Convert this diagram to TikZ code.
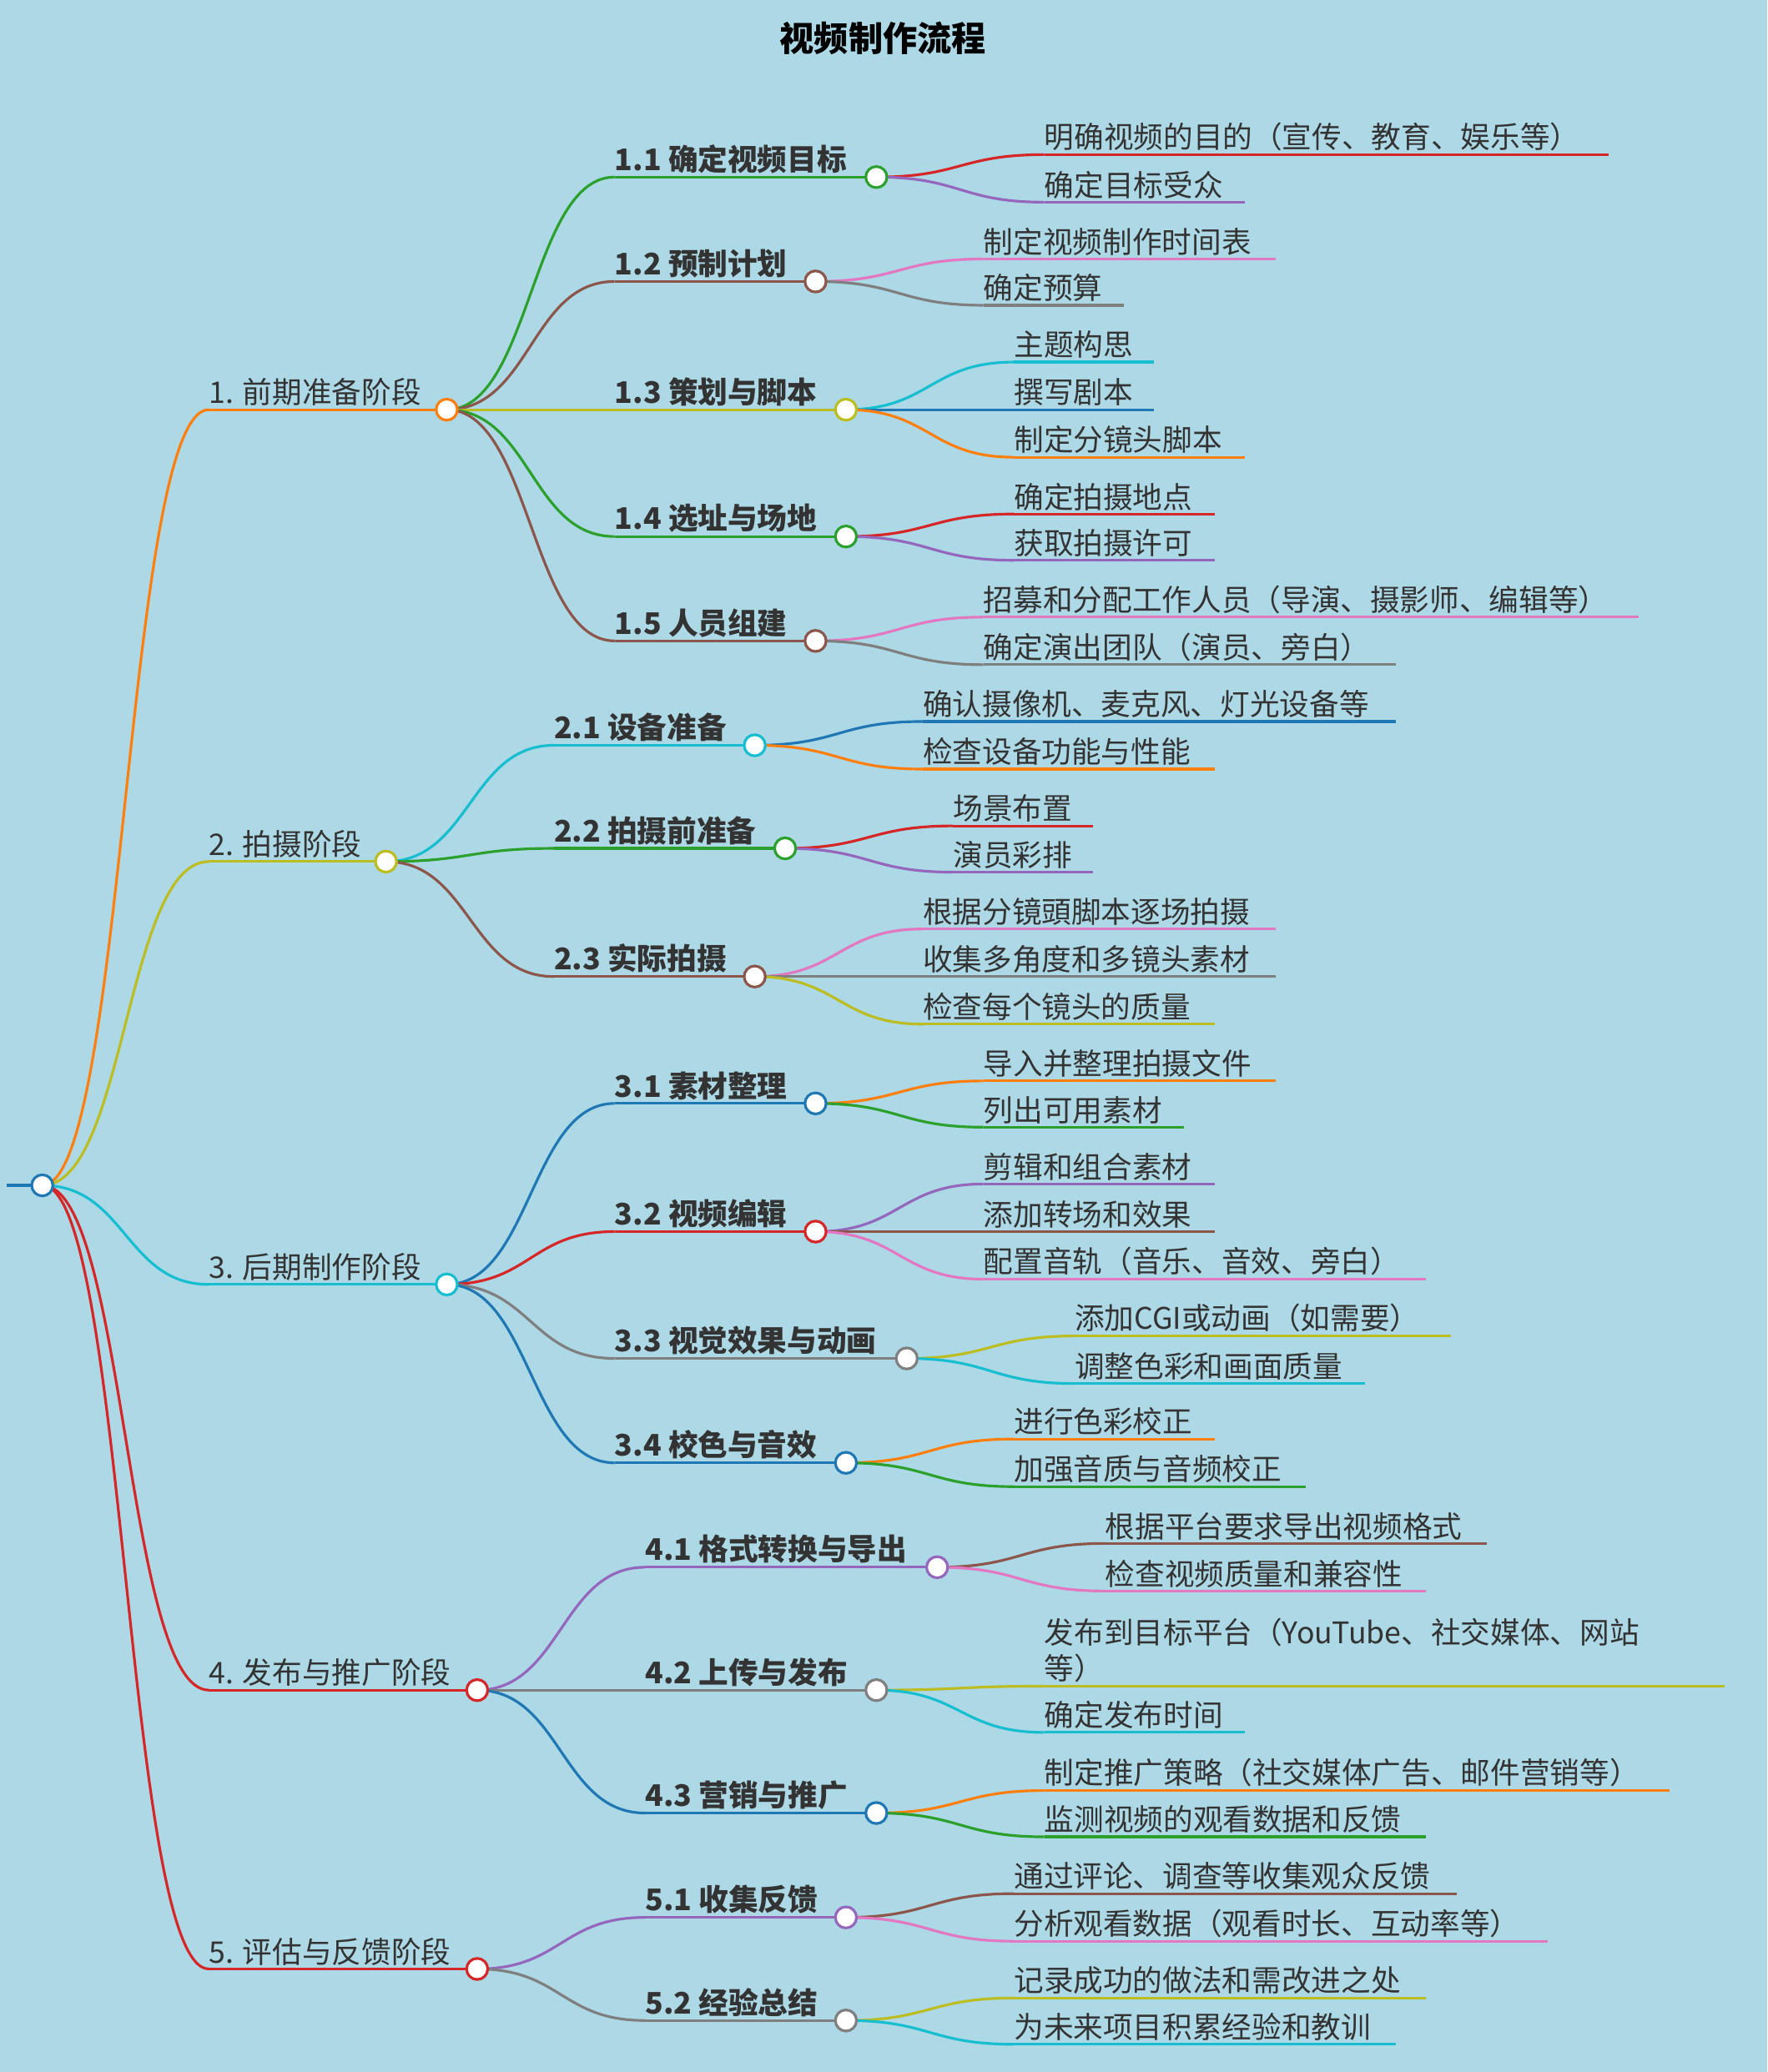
\documentclass[tikz,border=0pt]{standalone}
\usepackage{fontspec}
\newfontfamily\cjk{Noto Sans CJK SC}
\usetikzlibrary{calc}
\pgfdeclarelayer{background}
\pgfsetlayers{background,main}

\definecolor{mmorange}{HTML}{FF7F0E}
\definecolor{mmolive}{HTML}{BCBD22}
\definecolor{mmcyan}{HTML}{17BECF}
\definecolor{mmred}{HTML}{D62728}
\definecolor{mmgreen}{HTML}{2CA02C}
\definecolor{mmbrown}{HTML}{8C564B}
\definecolor{mmblue}{HTML}{1F77B4}
\definecolor{mmpurple}{HTML}{9467BD}
\definecolor{mmgray}{HTML}{7F7F7F}
\definecolor{mmpink}{HTML}{E377C2}
\definecolor{bgblue}{HTML}{ADD8E6}
\definecolor{textgray}{HTML}{333333}

% one topic: name, x, y, end x, colour, font, text
\newcommand\mmnode[7]{%
  \coordinate (#1s) at (#2,#3);
  \node[topic,#6] (#1t) at (#2,#3) {#7};
  \coordinate (#1) at (#4,#3);
  \begin{pgfonlayer}{background}\draw[branch,#5] (#1s) -- (#1);\end{pgfonlayer}
}
% the knob at the end of a topic
\newcommand\mmdot[2]{\node[knob,draw=#2] (#1d) at (#1) {};}
% curve from parent to child
\newcommand\mmlink[3]{%
  \begin{pgfonlayer}{background}
  \draw[branch,#3] let \p1=(#1), \p2=(#2s) in
    (\p1) .. controls ({(\x1+\x2)/2},\y1) and ({(\x1+\x2)/2},\y2) .. (\p2);
  \end{pgfonlayer}
}

\begin{document}
\begin{tikzpicture}[
    x={(1pt,0)}, y={(0,-1pt)},
    topic/.style={anchor=south west, inner xsep=0pt, inner ysep=2.5pt, text=textgray,
      font=\cjk\fontsize{22.5}{27}\selectfont},
    main/.style={font=\cjk\bfseries\fontsize{22.5}{27}\selectfont},
    branch/.style={line width=2pt},
    knob/.style={circle, fill=white, line width=2pt, minimum size=16pt, inner sep=0pt}
]
\begin{pgfonlayer}{background}
\fill[bgblue] (0,0) rectangle (1337,1568);
\end{pgfonlayer}
\node[font=\cjk\bfseries\fontsize{26}{30}\selectfont, text=black] (title) at (668,29) {视频制作流程};

% root
\mmnode{r}{5}{897}{32}{mmblue}{}{}

% first level
\mmnode{a}{158}{310}{338}{mmorange}{}{1. 前期准备阶段}
\mmnode{b}{158}{652}{292}{mmolive}{}{2. 拍摄阶段}
\mmnode{c}{158}{972}{338}{mmcyan}{}{3. 后期制作阶段}
\mmnode{d}{158}{1279}{361}{mmred}{}{4. 发布与推广阶段}
\mmnode{e}{158}{1490}{361}{mmred}{}{5. 评估与反馈阶段}
\mmlink{r}{a}{mmorange}
\mmlink{r}{b}{mmolive}
\mmlink{r}{c}{mmcyan}
\mmlink{r}{d}{mmred}
\mmlink{r}{e}{mmred}

% second level
\mmnode{a1}{465}{134}{663}{mmgreen}{main}{1.1 确定视频目标}
\mmnode{a2}{465}{213}{617}{mmbrown}{main}{1.2 预制计划}
\mmnode{a3}{465}{310}{640}{mmolive}{main}{1.3 策划与脚本}
\mmnode{a4}{465}{406}{640}{mmgreen}{main}{1.4 选址与场地}
\mmnode{a5}{465}{485}{617}{mmbrown}{main}{1.5 人员组建}
\mmnode{b1}{419}{564}{571}{mmcyan}{main}{2.1 设备准备}
\mmnode{b2}{419}{642}{594}{mmgreen}{main}{2.2 拍摄前准备}
\mmnode{b3}{419}{739}{571}{mmbrown}{main}{2.3 实际拍摄}
\mmnode{c1}{465}{835}{617}{mmblue}{main}{3.1 素材整理}
\mmnode{c2}{465}{932}{617}{mmred}{main}{3.2 视频编辑}
\mmnode{c3}{465}{1028}{686}{mmgray}{main}{3.3 视觉效果与动画}
\mmnode{c4}{465}{1107}{640}{mmblue}{main}{3.4 校色与音效}
\mmnode{d1}{488}{1186}{709}{mmpurple}{main}{4.1 格式转换与导出}
\mmnode{d2}{488}{1279}{663}{mmgray}{main}{4.2 上传与发布}
\mmnode{d3}{488}{1372}{663}{mmblue}{main}{4.3 营销与推广}
\mmnode{e1}{488}{1451}{640}{mmpurple}{main}{5.1 收集反馈}
\mmnode{e2}{488}{1529}{640}{mmgray}{main}{5.2 经验总结}
\foreach \pa/\kid/\col in {a/a1/mmgreen, a/a2/mmbrown, a/a3/mmolive, a/a4/mmgreen, a/a5/mmbrown,
    b/b1/mmcyan, b/b2/mmgreen, b/b3/mmbrown, c/c1/mmblue, c/c2/mmred, c/c3/mmgray, c/c4/mmblue,
    d/d1/mmpurple, d/d2/mmgray, d/d3/mmblue, e/e1/mmpurple, e/e2/mmgray}
  {\mmlink{\pa}{\kid}{\col}}

% leaves
\mmnode{a11}{790}{117}{1217}{mmred}{}{明确视频的目的（宣传、教育、娱乐等）}
\mmnode{a12}{790}{153}{942}{mmpurple}{}{确定目标受众}
\mmnode{a21}{744}{196}{965}{mmpink}{}{制定视频制作时间表}
\mmnode{a22}{744}{231}{850}{mmgray}{}{确定预算}
\mmnode{a31}{767}{274}{873}{mmcyan}{}{主题构思}
\mmnode{a32}{767}{310}{873}{mmblue}{}{撰写剧本}
\mmnode{a33}{767}{346}{942}{mmorange}{}{制定分镜头脚本}
\mmnode{a41}{767}{389}{919}{mmred}{}{确定拍摄地点}
\mmnode{a42}{767}{424}{919}{mmpurple}{}{获取拍摄许可}
\mmnode{a51}{744}{467}{1240}{mmpink}{}{招募和分配工作人员（导演、摄影师、编辑等）}
\mmnode{a52}{744}{503}{1056}{mmgray}{}{确定演出团队（演员、旁白）}
\mmnode{b11}{698}{546}{1056}{mmblue}{}{确认摄像机、麦克风、灯光设备等}
\mmnode{b12}{698}{582}{919}{mmorange}{}{检查设备功能与性能}
\mmnode{b21}{721}{625}{827}{mmred}{}{场景布置}
\mmnode{b22}{721}{660}{827}{mmpurple}{}{演员彩排}
\mmnode{b31}{698}{703}{965}{mmpink}{}{根据分镜頭脚本逐场拍摄}
\mmnode{b32}{698}{739}{965}{mmgray}{}{收集多角度和多镜头素材}
\mmnode{b33}{698}{775}{919}{mmolive}{}{检查每个镜头的质量}
\mmnode{c11}{744}{818}{965}{mmorange}{}{导入并整理拍摄文件}
\mmnode{c12}{744}{853}{896}{mmgreen}{}{列出可用素材}
\mmnode{c21}{744}{896}{919}{mmpurple}{}{剪辑和组合素材}
\mmnode{c22}{744}{932}{919}{mmbrown}{}{添加转场和效果}
\mmnode{c23}{744}{968}{1079}{mmpink}{}{配置音轨（音乐、音效、旁白）}
\mmnode{c31}{813}{1011}{1098}{mmolive}{}{添加CGI或动画（如需要）}
\mmnode{c32}{813}{1047}{1033}{mmcyan}{}{调整色彩和画面质量}
\mmnode{c41}{767}{1089}{919}{mmorange}{}{进行色彩校正}
\mmnode{c42}{767}{1125}{988}{mmgreen}{}{加强音质与音频校正}
\mmnode{d11}{836}{1168}{1125}{mmbrown}{}{根据平台要求导出视频格式}
\mmnode{d12}{836}{1204}{1079}{mmpink}{}{检查视频质量和兼容性}
\mmnode{d21}{790}{1276}{1305}{mmolive}{align=left}{发布到目标平台（YouTube、社交媒体、网站\\等）}
\mmnode{d22}{790}{1311}{942}{mmcyan}{}{确定发布时间}
\mmnode{d31}{790}{1355}{1263}{mmorange}{}{制定推广策略（社交媒体广告、邮件营销等）}
\mmnode{d32}{790}{1390}{1079}{mmgreen}{}{监测视频的观看数据和反馈}
\mmnode{e11}{767}{1433}{1102}{mmbrown}{}{通过评论、调查等收集观众反馈}
\mmnode{e12}{767}{1469}{1171}{mmpink}{}{分析观看数据（观看时长、互动率等）}
\mmnode{e21}{767}{1512}{1079}{mmolive}{}{记录成功的做法和需改进之处}
\mmnode{e22}{767}{1547}{1056}{mmcyan}{}{为未来项目积累经验和教训}
\foreach \pa/\kid/\col in {a1/a11/mmred, a1/a12/mmpurple, a2/a21/mmpink, a2/a22/mmgray,
    a3/a31/mmcyan, a3/a32/mmblue, a3/a33/mmorange, a4/a41/mmred, a4/a42/mmpurple,
    a5/a51/mmpink, a5/a52/mmgray, b1/b11/mmblue, b1/b12/mmorange, b2/b21/mmred, b2/b22/mmpurple,
    b3/b31/mmpink, b3/b32/mmgray, b3/b33/mmolive, c1/c11/mmorange, c1/c12/mmgreen,
    c2/c21/mmpurple, c2/c22/mmbrown, c2/c23/mmpink, c3/c31/mmolive, c3/c32/mmcyan,
    c4/c41/mmorange, c4/c42/mmgreen, d1/d11/mmbrown, d1/d12/mmpink, d2/d21/mmolive, d2/d22/mmcyan,
    d3/d31/mmorange, d3/d32/mmgreen, e1/e11/mmbrown, e1/e12/mmpink, e2/e21/mmolive, e2/e22/mmcyan}
  {\mmlink{\pa}{\kid}{\col}}

% knobs
\mmdot{r}{mmblue}
\foreach \kid/\col in {a/mmorange, b/mmolive, c/mmcyan, d/mmred, e/mmred,
    a1/mmgreen, a2/mmbrown, a3/mmolive, a4/mmgreen, a5/mmbrown, b1/mmcyan, b2/mmgreen, b3/mmbrown,
    c1/mmblue, c2/mmred, c3/mmgray, c4/mmblue, d1/mmpurple, d2/mmgray, d3/mmblue, e1/mmpurple, e2/mmgray}
  {\mmdot{\kid}{\col}}
\end{tikzpicture}
\end{document}
